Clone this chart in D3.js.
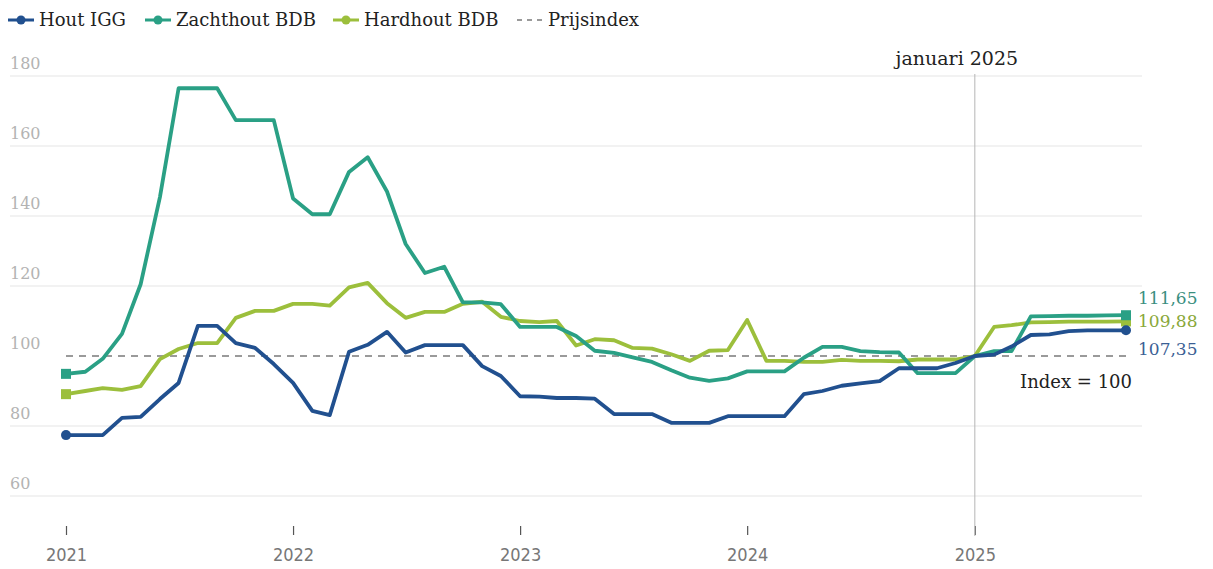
<!DOCTYPE html>
<html>
<head>
<meta charset="utf-8">
<script src="https://cdn.jsdelivr.net/npm/d3@7"></script>
<style>
  body { margin: 0; background: #fff; }
  svg { display: block; }
</style>
</head>
<body>
<div id="chart"></div>
<script>
// monthly index values, jan 2021 - sep 2025
const houtIGG = [
  77.4, 77.4, 77.4, 82.3, 82.6, 87.7, 92.3, 108.6, 108.6, 103.7, 102.3, 97.7,
  92.3, 84.3, 83.1, 101.2, 103.2, 106.9, 101.0, 103.1, 103.1, 103.1, 97.1, 94.3,
  88.5, 88.4, 88.0, 88.0, 87.8, 83.4, 83.4, 83.4, 80.9, 80.9, 80.9, 82.8,
  82.8, 82.8, 82.8, 89.1, 90.0, 91.5, 92.2, 92.8, 96.5, 96.5, 96.5, 98.0,
  100.0, 100.4, 102.7, 106.0, 106.2, 107.1, 107.3, 107.35, 107.35
];
const zachthoutBDB = [
  94.9, 95.5, 99.2, 106.3, 120.5, 145.4, 176.5, 176.5, 176.5, 167.4, 167.4, 167.4,
  145.0, 140.5, 140.5, 152.6, 156.8, 147.0, 132.0, 123.7, 125.5, 115.3, 115.3, 114.8,
  108.3, 108.3, 108.3, 105.7, 101.5, 100.9, 99.6, 98.3, 95.9, 93.8, 92.9, 93.6,
  95.6, 95.6, 95.6, 99.5, 102.6, 102.6, 101.4, 101.1, 101.0, 95.1, 95.1, 95.1,
  100.0, 101.4, 101.4, 111.3, 111.4, 111.5, 111.5, 111.6, 111.65
];
const hardhoutBDB = [
  89.1, 90.0, 90.8, 90.3, 91.4, 99.1, 102.0, 103.7, 103.7, 110.9, 112.9, 112.9,
  114.9, 114.9, 114.4, 119.6, 120.9, 115.1, 110.9, 112.6, 112.6, 114.9, 115.5, 111.2,
  110.0, 109.7, 110.0, 103.0, 104.8, 104.5, 102.3, 102.1, 100.5, 98.6, 101.5, 101.7,
  110.3, 98.6, 98.6, 98.3, 98.3, 98.9, 98.6, 98.6, 98.5, 99.0, 99.0, 99.0,
  100.0, 108.3, 108.8, 109.6, 109.7, 109.8, 109.8, 109.85, 109.88
];
const endLabels = ["111,65", "109,88", "107,35"];
const yTicks = [60, 80, 100, 120, 140, 160, 180];
const xTickYears = [2021, 2022, 2023, 2024, 2025];
const indexValue = 100;
const markerDate = new Date(2025, 0, 1);

const width = 1213, height = 569;
const months = d3.timeMonths(new Date(2021, 0, 1), new Date(2025, 9, 1));

const x = d3.scaleTime()
  .domain([months[0], months[months.length - 1]])
  .range([66, 1126]);
const y = d3.scaleLinear().domain([60, 180]).range([496, 76]);

const serif = "'DejaVu Serif', 'Liberation Serif', serif";

const series = [
  { name: "Hout IGG", values: houtIGG, color: "#21508f", label: "#3b5f95", shape: "circle", lab: endLabels[2] },
  { name: "Zachthout BDB", values: zachthoutBDB, color: "#2aa085", label: "#3a8f7f", shape: "square", lab: endLabels[0] },
  { name: "Hardhout BDB", values: hardhoutBDB, color: "#9cbf3c", label: "#8aa83a", shape: "square", lab: endLabels[1] }
];

const svg = d3.select("#chart").append("svg")
  .attr("width", width).attr("height", height);

// grid
const grid = svg.append("g");
grid.selectAll("line")
  .data(yTicks.filter(d => d !== indexValue))
  .join("line")
  .attr("x1", 10).attr("x2", 1142)
  .attr("y1", d => y(d)).attr("y2", d => y(d))
  .attr("stroke", "#e6e6e6").attr("stroke-width", 1.2);
grid.selectAll("text")
  .data(yTicks)
  .join("text")
  .attr("x", 10).attr("y", d => y(d) - 7)
  .attr("fill", "#b3b3b3")
  .attr("font-family", serif).attr("font-size", 16)
  .text(d => d);

// x axis
const xAxis = d3.axisBottom(x)
  .tickValues(xTickYears.map(d => new Date(d, 0, 1)))
  .tickFormat(d3.timeFormat("%Y"))
  .tickSize(9).tickPadding(13);
const gx = svg.append("g")
  .attr("transform", "translate(0,526)")
  .call(xAxis);
gx.select(".domain").remove();
gx.selectAll("line").attr("stroke", "#555").attr("stroke-width", 1.2);
gx.selectAll("text")
  .attr("fill", "#777")
  .attr("font-family", "'Liberation Sans Narrow', 'DejaVu Sans Condensed', sans-serif")
  .attr("font-size", 18);

// marker line januari 2025
svg.append("line")
  .attr("x1", x(markerDate)).attr("x2", x(markerDate))
  .attr("y1", 74).attr("y2", 536)
  .attr("stroke", "#b5b5b5").attr("stroke-width", 1);
svg.append("text")
  .attr("x", x(markerDate) - 18).attr("y", 65)
  .attr("text-anchor", "middle")
  .attr("font-family", serif).attr("font-size", 19)
  .attr("fill", "#222")
  .text("januari 2025");

// index line
svg.append("line")
  .attr("x1", x(months[0])).attr("x2", x(months[months.length - 1]))
  .attr("y1", y(indexValue)).attr("y2", y(indexValue))
  .attr("stroke", "#9a9a9a").attr("stroke-width", 2)
  .attr("stroke-dasharray", "7,6");
svg.append("text")
  .attr("x", 1132).attr("y", 388)
  .attr("text-anchor", "end")
  .attr("font-family", serif).attr("font-size", 18)
  .attr("fill", "#222")
  .text("Index = 100");

// lines
const line = d3.line()
  .x((d, i) => x(months[i]))
  .y(d => y(d));

const drawOrder = [series[2], series[1], series[0]];
drawOrder.forEach(s => {
  svg.append("path")
    .datum(s.values)
    .attr("fill", "none")
    .attr("stroke", s.color)
    .attr("stroke-width", 3.8)
    .attr("stroke-linejoin", "round")
    .attr("d", line);
  const ends = [0, s.values.length - 1];
  ends.forEach(i => {
    const cx = x(months[i]), cy = y(s.values[i]);
    if (s.shape === "circle") {
      svg.append("circle").attr("cx", cx).attr("cy", cy).attr("r", 5).attr("fill", s.color);
    } else {
      svg.append("rect").attr("x", cx - 5).attr("y", cy - 5)
        .attr("width", 10).attr("height", 10).attr("fill", s.color);
    }
  });
});

// end labels
const labelY = { "Hout IGG": 355, "Zachthout BDB": 304, "Hardhout BDB": 327 };
series.forEach(s => {
  svg.append("text")
    .attr("x", 1138).attr("y", labelY[s.name])
    .attr("font-family", serif).attr("font-size", 17)
    .attr("fill", s.label)
    .text(s.lab);
});

// legend
const legend = svg.append("g").attr("transform", "translate(8,20)");
const legendItems = [
  { name: "Hout IGG", color: series[0].color, x: 0 },
  { name: "Zachthout BDB", color: series[1].color, x: 137 },
  { name: "Hardhout BDB", color: series[2].color, x: 325 },
  { name: "Prijsindex", color: "#9a9a9a", x: 509, dashed: true }
];
legendItems.forEach(d => {
  const g = legend.append("g").attr("transform", `translate(${d.x},0)`);
  if (d.dashed) {
    g.append("line").attr("x1", 0).attr("x2", 26).attr("y1", 0).attr("y2", 0)
      .attr("stroke", d.color).attr("stroke-width", 2).attr("stroke-dasharray", "5,5");
  } else {
    g.append("line").attr("x1", 0).attr("x2", 26).attr("y1", 0).attr("y2", 0)
      .attr("stroke", d.color).attr("stroke-width", 3);
    g.append("circle").attr("cx", 13).attr("cy", 0).attr("r", 4.5).attr("fill", d.color);
  }
  g.append("text")
    .attr("x", 31).attr("y", 6)
    .attr("font-family", serif).attr("font-size", 18)
    .attr("fill", "#222")
    .text(d.name);
});
</script>
</body>
</html>
